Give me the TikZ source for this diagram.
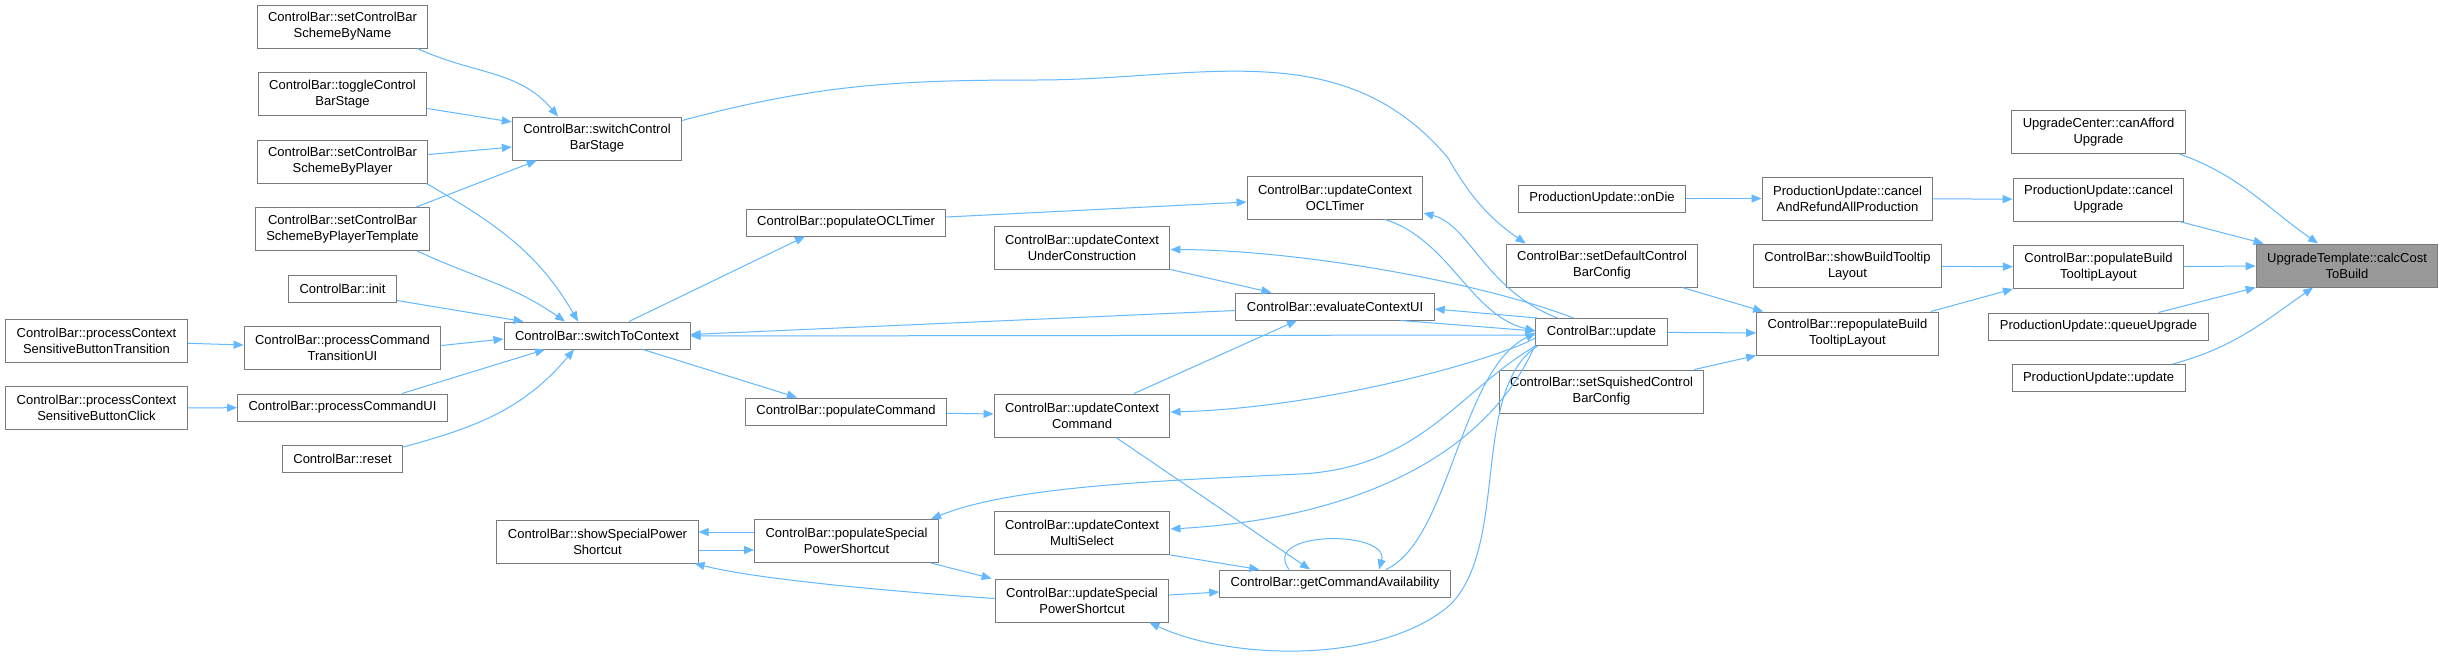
\documentclass[tikz,border=0pt]{standalone}
\usepackage{fontspec}
\setmainfont{Liberation Sans}
\usepackage{xcolor}
\usepackage{tikz}
\usetikzlibrary{positioning,arrows.meta}
\definecolor{callblue}{HTML}{63B8FF}
\definecolor{boxgray}{HTML}{7A7A7A}
\definecolor{rootgray}{HTML}{999999}
\tikzset{
  fn/.style={rectangle,draw=boxgray,fill=white,align=center,line width=0.5pt,
    inner xsep=5.5pt,inner ysep=1pt,minimum height=13.5pt,
    font=\fontsize{6.5pt}{8pt}\selectfont},
  fn2/.style={fn,minimum height=21.5pt},
  root/.style={fn2,fill=rootgray},
  call/.style={-{Triangle[length=5pt,width=4pt]},draw=callblue,line width=0.5pt},
}
\begin{document}
\begin{tikzpicture}[x=0.5pt,y=-0.5pt,node distance=11.75pt]
  \path[use as bounding box,fill=white] (0,0) rectangle (2444,659);
  \node[root] (cctb) at (2347,265.5) {UpgradeTemplate::calcCost\\ToBuild};
  \node[fn2] (ucau) at (2098.5,132) {UpgradeCenter::canAfford\\Upgrade};
  \node[fn2,below=of ucau] (pcu) {ProductionUpdate::cancel\\Upgrade};
  \node[fn2,below=of pcu] (pbtl) {ControlBar::populateBuild\\TooltipLayout};
  \node[fn,below=of pbtl] (pqu) {ProductionUpdate::queueUpgrade};
  \node[fn,below=of pqu] (pupd) {ProductionUpdate::update};
  \node[fn2] (carp) at (1847.5,198.5) {ProductionUpdate::cancel\\AndRefundAllProduction};
  \node[fn2,below=of carp] (sbtl) {ControlBar::showBuildTooltip\\Layout};
  \node[fn2,below=of sbtl] (rbtl) {ControlBar::repopulateBuild\\TooltipLayout};
  \node[fn] (pod) at (1602,198.5) {ProductionUpdate::onDie};
  \node[fn2] (sdcbc) at (1602,265.5) {ControlBar::setDefaultControl\\BarConfig};
  \node[fn] (upd) at (1601.5,332) {ControlBar::update};
  \node[fn2,below=of upd] (sscbc) {ControlBar::setSquishedControl\\BarConfig};
  \node[fn2] (ucocl) at (1335,197.5) {ControlBar::updateContext\\OCLTimer};
  \node[fn] (ecui) at (1335,306.5) {ControlBar::evaluateContextUI};
  \node[fn] (gca) at (1335,583.5) {ControlBar::getCommandAvailability};
  \node[fn2] (ucuc) at (1082,247.5) {ControlBar::updateContext\\UnderConstruction};
  \node[fn2] (uccmd) at (1082,415.5) {ControlBar::updateContext\\Command};
  \node[fn2] (ucms) at (1082,533) {ControlBar::updateContext\\MultiSelect};
  \node[fn2,below=of ucms] (usps) {ControlBar::updateSpecial\\PowerShortcut};
  \node[fn] (pocl) at (846,222.5) {ControlBar::populateOCLTimer};
  \node[fn] (pcmd) at (846,411.5) {ControlBar::populateCommand};
  \node[fn2] (psps) at (846.5,541) {ControlBar::populateSpecial\\PowerShortcut};
  \node[fn2] (scbs) at (597,138.5) {ControlBar::switchControl\\BarStage};
  \node[fn] (stc) at (597,335.5) {ControlBar::switchToContext};
  \node[fn2] (sspsc) at (597.5,541.5) {ControlBar::showSpecialPower\\Shortcut};
  \node[fn2] (sbn) at (342.5,26.5) {ControlBar::setControlBar\\SchemeByName};
  \node[fn2,below=of sbn] (tcs) {ControlBar::toggleControl\\BarStage};
  \node[fn2,below=of tcs] (sbp) {ControlBar::setControlBar\\SchemeByPlayer};
  \node[fn2,below=of sbp] (sbt) {ControlBar::setControlBar\\SchemeByPlayerTemplate};
  \node[fn,below=of sbt] (init) {ControlBar::init};
  \node[fn2,below=of init] (pctu) {ControlBar::processCommand\\TransitionUI};
  \node[fn,below=of pctu] (pcui) {ControlBar::processCommandUI};
  \node[fn,below=of pcui] (reset) {ControlBar::reset};
  \node[fn2] (pcsbt) at (96.5,340.5) {ControlBar::processContext\\SensitiveButtonTransition};
  \node[fn2,below=of pcsbt] (pcsbc) {ControlBar::processContext\\SensitiveButtonClick};

  \draw[call] ([xshift=-3pt]ucau.south east) to[out=-20,in=145] ([xshift=-14.5pt]cctb.north);
  \draw[call] ([xshift=-2.5pt]pcu.south east) -- ([xshift=4pt]cctb.north west);
  \draw[call] (pbtl) -- (cctb);
  \draw[call] ([xshift=30pt]pqu.north) -- (cctb.south west);
  \draw[call] ([xshift=-6.5pt]pupd.north east) to[out=15,in=-145] ([xshift=-17pt]cctb.south);
  \draw[call] (pod) -- (carp);
  \draw[call] (carp) -- (pcu);
  \draw[call] (sbtl) -- (pbtl);
  \draw[call] ([xshift=-4pt]rbtl.north east) -- (pbtl.south west);
  \draw[call] ([xshift=-8pt]sdcbc.south east) -- ([xshift=3.5pt]rbtl.north west);
  \draw[call] (upd) -- (rbtl);
  \draw[call] ([xshift=-5pt]sscbc.north east) -- (rbtl.south west);

  \draw[call] ([xshift=-5.5pt]sbn.south east) to[out=-25,in=130] ([xshift=-19.5pt]scbs.north);
  \draw[call] ([yshift=-7.25pt]tcs.east) -- ([yshift=8.25pt]scbs.west);
  \draw[call] ([yshift=3.5pt]sbp.east) -- ([yshift=-4.25pt]scbs.west);
  \draw[call] ([xshift=-7pt]sbt.north east) -- ([xshift=12.5pt]scbs.south west);
  \draw[call] ([xshift=-1pt]sbp.south east) to[out=-30,in=120] ([xshift=-9.5pt]stc.north);
  \draw[call] ([xshift=-6.5pt]sbt.south east) to[out=-25,in=145] ([xshift=-16pt]stc.north);
  \draw[call] ([yshift=-6pt]init.east) -- ([xshift=10pt]stc.north west);
  \draw[call] ([yshift=1.25pt]pctu.east) -- ([yshift=-1.75pt]stc.west);
  \draw[call] ([xshift=29.75pt]pcui.north) -- ([xshift=-26pt]stc.south);
  \draw[call] ([yshift=-1pt]reset.north east) to[out=15,in=-130] ([xshift=-11.5pt]stc.south);
  \draw[call] (pcsbt) -- (pctu);
  \draw[call] (pcsbc) -- (pcui);
  \draw[call] ([yshift=9pt]scbs.east) to[out=15,in=180] (1036,80) to[out=0,in=130] (1448,158)
    to[out=-60,in=145] ([xshift=10pt]sdcbc.north west);

  \draw[call] ([xshift=16pt]stc.north) -- ([xshift=-20.5pt]pocl.south);
  \draw[call] ([yshift=2.75pt]pocl.east) -- ([yshift=-2.25pt]ucocl.west);
  \draw[call] ([xshift=23pt]stc.south) -- ([xshift=-24.5pt]pcmd.north);
  \draw[call] (pcmd) -- (uccmd);
  \draw[call] ([xshift=26pt]uccmd.north) -- ([xshift=-19pt]ecui.south);
  \draw[call] (ucuc.south east) -- ([xshift=18pt]ecui.north west);
  \draw[call] ([yshift=-2pt]ecui.west) -- ([yshift=0.5pt]stc.east);
  \draw[call] ([yshift=-1.5pt]upd.west) -- ([yshift=-0.25pt]stc.east);

  \draw[call] ([xshift=25pt]ucocl.south) .. controls (1450,240) and (1470,315) .. ([yshift=0.5pt]upd.west);
  \draw[call] ([xshift=11pt]upd.north west) .. controls (1485,290) and (1470,225) .. ([yshift=-7.75pt]ucocl.east);
  \draw[call] ([xshift=1pt]upd.north west) -- ([yshift=-1.25pt]ecui.east);
  \draw[call] ([xshift=-17pt]ecui.south east) -- ([yshift=0.5pt]upd.west);
  \draw[call] ([xshift=19pt]upd.north west) .. controls (1480,282) and (1300,250) .. ([yshift=-1pt]ucuc.east);
  \draw[call] ([yshift=-3pt]upd.west) .. controls (1490,362) and (1320,408) .. ([yshift=1.75pt]uccmd.east);
  \draw[call] (upd.south west) .. controls (1460,390) and (1420,468) .. (1300,474)
    .. controls (1150,481) and (1010,487) .. ([xshift=-4pt]psps.north east);
  \draw[call] ([yshift=0.75pt]upd.south west) .. controls (1480,470) and (1330,520) .. ([yshift=2pt]ucms.east);
  \draw[call] ([xshift=25.5pt]gca.north) .. controls (1450,540) and (1460,370) .. ([yshift=-0.5pt]upd.west);
  \draw[call] ([xshift=1pt]upd.south west) .. controls (1470,390) and (1510,545) .. (1450,605)
    .. controls (1380,665) and (1230,660) .. ([xshift=-10pt]usps.south east);

  \draw[call] ([xshift=17pt]uccmd.south) -- ([xshift=-12.5pt]gca.north);
  \draw[call] (ucms.south east) -- ([xshift=20pt]gca.north west);
  \draw[call] ([xshift=-23pt]gca.north) .. controls (1260,530) and (1390,530) .. ([xshift=22pt]gca.north);
  \draw[call] ([yshift=4.5pt]psps.west) -- ([yshift=4.75pt]sspsc.east);
  \draw[call] ([yshift=-4.25pt]sspsc.east) -- ([yshift=-4.5pt]psps.west);
  \draw[call] ([xshift=-4pt]psps.south east) -- ([xshift=-1.5pt]usps.north west);
  \draw[call] ([yshift=1pt]usps.west) .. controls (900,592) and (760,580) .. ([xshift=-2pt]sspsc.south east);
  \draw[call] ([yshift=2.75pt]usps.east) -- ([yshift=-4.25pt]gca.west);
\end{tikzpicture}
\end{document}
